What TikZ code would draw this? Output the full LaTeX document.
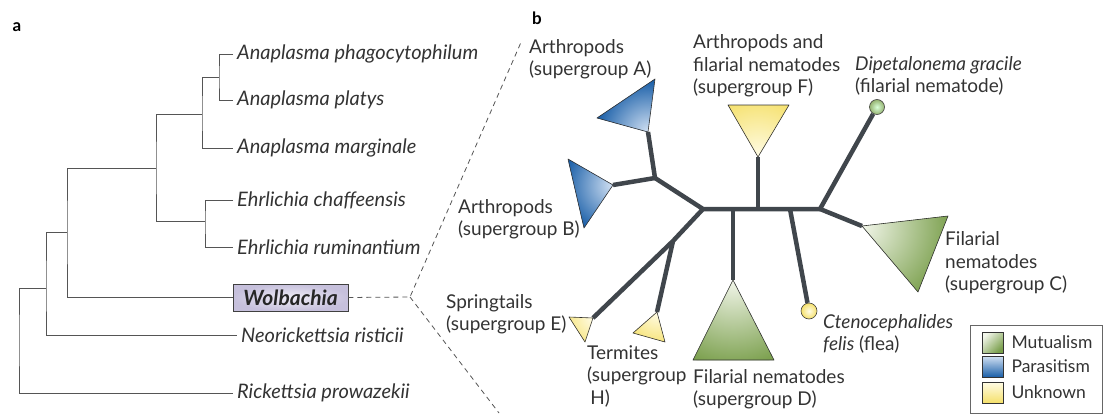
\documentclass[tikz,border=0pt]{standalone}
\usepackage{fontspec}
\setmainfont{Lato}
\usetikzlibrary{positioning}

\definecolor{txtc}{HTML}{333333}
\definecolor{cladoc}{HTML}{555555}
\definecolor{branchc}{HTML}{40464C}
\definecolor{bluedark}{HTML}{1A5FA8}
\definecolor{bluelight}{HTML}{D2E1F3}
\definecolor{greendark}{HTML}{7A9F4C}
\definecolor{greenlight}{HTML}{F2F6EA}
\definecolor{yellowdark}{HTML}{F5E06A}
\definecolor{yellowlight}{HTML}{FFFCE6}
\definecolor{wolbin}{HTML}{EFEDF6}
\definecolor{wolbout}{HTML}{C6C0DC}

\tikzset{
  taxon/.style={anchor=west,inner sep=4pt,text=txtc,font=\fontsize{20}{22}\selectfont\itshape},
  lbl/.style={anchor=west,align=left,inner sep=0pt,text=txtc,font=\fontsize{19}{22.5}\selectfont},
  keytext/.style={anchor=west,inner sep=0pt,text=txtc,font=\fontsize{17.5}{20}\selectfont},
  panel/.style={inner sep=0pt,text=black,font=\fontsize{17}{20}\selectfont\bfseries},
  clado/.style={draw=cladoc,line width=0.9pt},
  link/.style={draw=cladoc,line width=0.8pt,dash pattern=on 5pt off 4pt},
  branch/.style={draw=branchc,line width=4.5pt,line join=round},
  clade/.style={draw=black!80,line width=0.6pt,line join=round},
  tip/.style={circle,draw=black!75,line width=0.6pt,minimum size=15pt,inner sep=0pt},
  swatch/.style={draw=black!80,line width=0.6pt,minimum size=21pt,inner sep=0pt}
}

% triangle: apex, two corners, light colour, dark colour, reach of the light part
\newcommand{\cladetri}[6]{%
  \begin{scope}
    \clip #1 -- #2 -- #3 -- cycle;
    \fill[#5] #1 -- #2 -- #3 -- cycle;
    \shade[inner color=#4,outer color=#5] #1 circle (#6);
  \end{scope}
  \draw[clade] #1 -- #2 -- #3 -- cycle;}

\begin{document}
\begin{tikzpicture}[x=1pt,y=-1pt]
\useasboundingbox (0,0) rectangle (1109,415);

% panel a: cladogram
\node[panel] (pa) at (17,27) {a};
\node[taxon] (phago) at (233,54) {Anaplasma phagocytophilum};
\node[taxon] (platys) at (233,100) {Anaplasma platys};
\node[taxon] (marg) at (233,148) {Anaplasma marginale};
\node[taxon] (chaff) at (233,200) {Ehrlichia chaffeensis};
\node[taxon] (rumin) at (233,247) {Ehrlichia ruminantium};
\node[draw=black!75,line width=0.9pt,inner color=wolbin,outer color=wolbout,
  minimum width=115pt,minimum height=27pt,inner sep=0pt,
  font=\fontsize{21}{22}\selectfont\bfseries\itshape,text=black!85] (wolb) at (290.5,297.5) {Wolbachia};
\node[taxon] (neori) at (237,335) {Neorickettsia risticii};
\node[taxon] (rick) at (233,393) {Rickettsia prowazekii};

\coordinate (n5) at (219,77);
\coordinate (n4) at (202,114);
\coordinate (n6) at (205,221);
\coordinate (n3) at (156,168);
\coordinate (n2) at (67,232);
\coordinate (n1) at (46,288);
\coordinate (n0) at (19,340);

\draw[clado] (phago.west) -| (n5) |- (platys.west);
\draw[clado] (n5) -| (n4) |- (marg.west);
\draw[clado] (chaff.west) -| (n6) |- (rumin.west);
\draw[clado] (n4) -| (n3) |- (n6);
\draw[clado] (n3) -| (n2) |- (wolb.west);
\draw[clado] (n2) -| (n1) |- (neori.west);
\draw[clado] (n1) -| (n0) |- (rick.west);

% zoom lines
\coordinate (fork) at (410,297);
\coordinate (zoomtop) at (522,40);
\coordinate (zoombot) at (499,413);
\draw[link] (wolb.east) -- (fork) -- (zoomtop);
\draw[link] (fork) -- (zoombot);

% panel b: unrooted tree
\node[panel] (pb) at (537,18) {b};
\coordinate (c0) at (703,209);
\coordinate (cAB) at (655,178);
\coordinate (tA) at (648,132);
\coordinate (tB) at (613,185);
\coordinate (cEH) at (673,241);
\coordinate (tE) at (593,318);
\coordinate (tH) at (657,312);
\coordinate (jD) at (733,209);
\coordinate (tD) at (733,280);
\coordinate (jF) at (758,209);
\coordinate (tF) at (758,157);
\coordinate (jfl) at (790,209);
\coordinate (c1) at (820,209);
\coordinate (tC) at (862,226);
\node[tip,inner color=green!15!white,outer color=greendark!80] (dip) at (877,107) {};
\node[tip,inner color=yellowlight,outer color=yellowdark,minimum size=16pt] (flea) at (809,311) {};

\draw[branch] (tA) -- (cAB) -- (tB);
\draw[branch] (cAB) -- (c0) -- (c1);
\draw[branch] (c0) -- (cEH) -- (tE);
\draw[branch] (cEH) -- (tH);
\draw[branch] (jD) -- (tD);
\draw[branch] (jF) -- (tF);
\draw[branch] (jfl) -- (flea);
\draw[branch] (c1) -- (dip);
\draw[branch] (c1) -- (tC);

% clades
\cladetri{(tA)}{(655,79)}{(597,118)}{bluelight}{bluedark}{52pt}
\cladetri{(tB)}{(568,159)}{(584,228)}{bluelight}{bluedark}{50pt}
\cladetri{(tF)}{(728,105)}{(789,105)}{yellowlight}{yellowdark}{62pt}
\cladetri{(tC)}{(948,216)}{(918,292)}{greenlight}{greendark}{90pt}
\cladetri{(tD)}{(774,360)}{(693,360)}{greenlight}{greendark}{88pt}
\cladetri{(tE)}{(585,342)}{(569,317)}{yellowlight}{yellowdark}{34pt}
\cladetri{(tH)}{(633,333)}{(665,342)}{yellowlight}{yellowdark}{36pt}

% labels
\node[lbl] (labA) at (529,59) {Arthropods\\(supergroup A)};
\node[lbl] (labF) at (693,66) {Arthropods and\\filarial nematodes\\(supergroup F)};
\node[lbl] (labDip) at (855,76) {\textit{Dipetalonema gracile}\\(filarial nematode)};
\node[lbl] (labB) at (458,219) {Arthropods\\(supergroup B)};
\node[lbl] (labE) at (446,314) {Springtails\\(supergroup E)};
\node[lbl] (labH) at (587,376) {Termites\\(supergroup\\\,H)};
\node[lbl] (labD) at (693,389) {Filarial nematodes\\(supergroup D)};
\node[lbl] (labFlea) at (823,334) {\textit{Ctenocephalides}\\\textit{felis} (flea)};
\node[lbl] (labC) at (945,263) {Filarial\\nematodes\\(supergroup C)};

% legend
\draw[draw=black!60,line width=0.9pt] (970,325) rectangle (1102,413);
\node[swatch,top color=greenlight,bottom color=greendark,shading angle=45] (mut) at (992.5,342.5) {};
\node[swatch,top color=bluelight,bottom color=bluedark] (para) at (992.5,366.5) {};
\node[swatch,top color=yellowlight,bottom color=yellowdark] (unk) at (992.5,392.5) {};
\node[keytext,right=8pt of mut] (lmut) {Mutualism};
\node[keytext,right=8pt of para] (lpara) {Parasitism};
\node[keytext,right=8pt of unk] (lunk) {Unknown};
\end{tikzpicture}
\end{document}
